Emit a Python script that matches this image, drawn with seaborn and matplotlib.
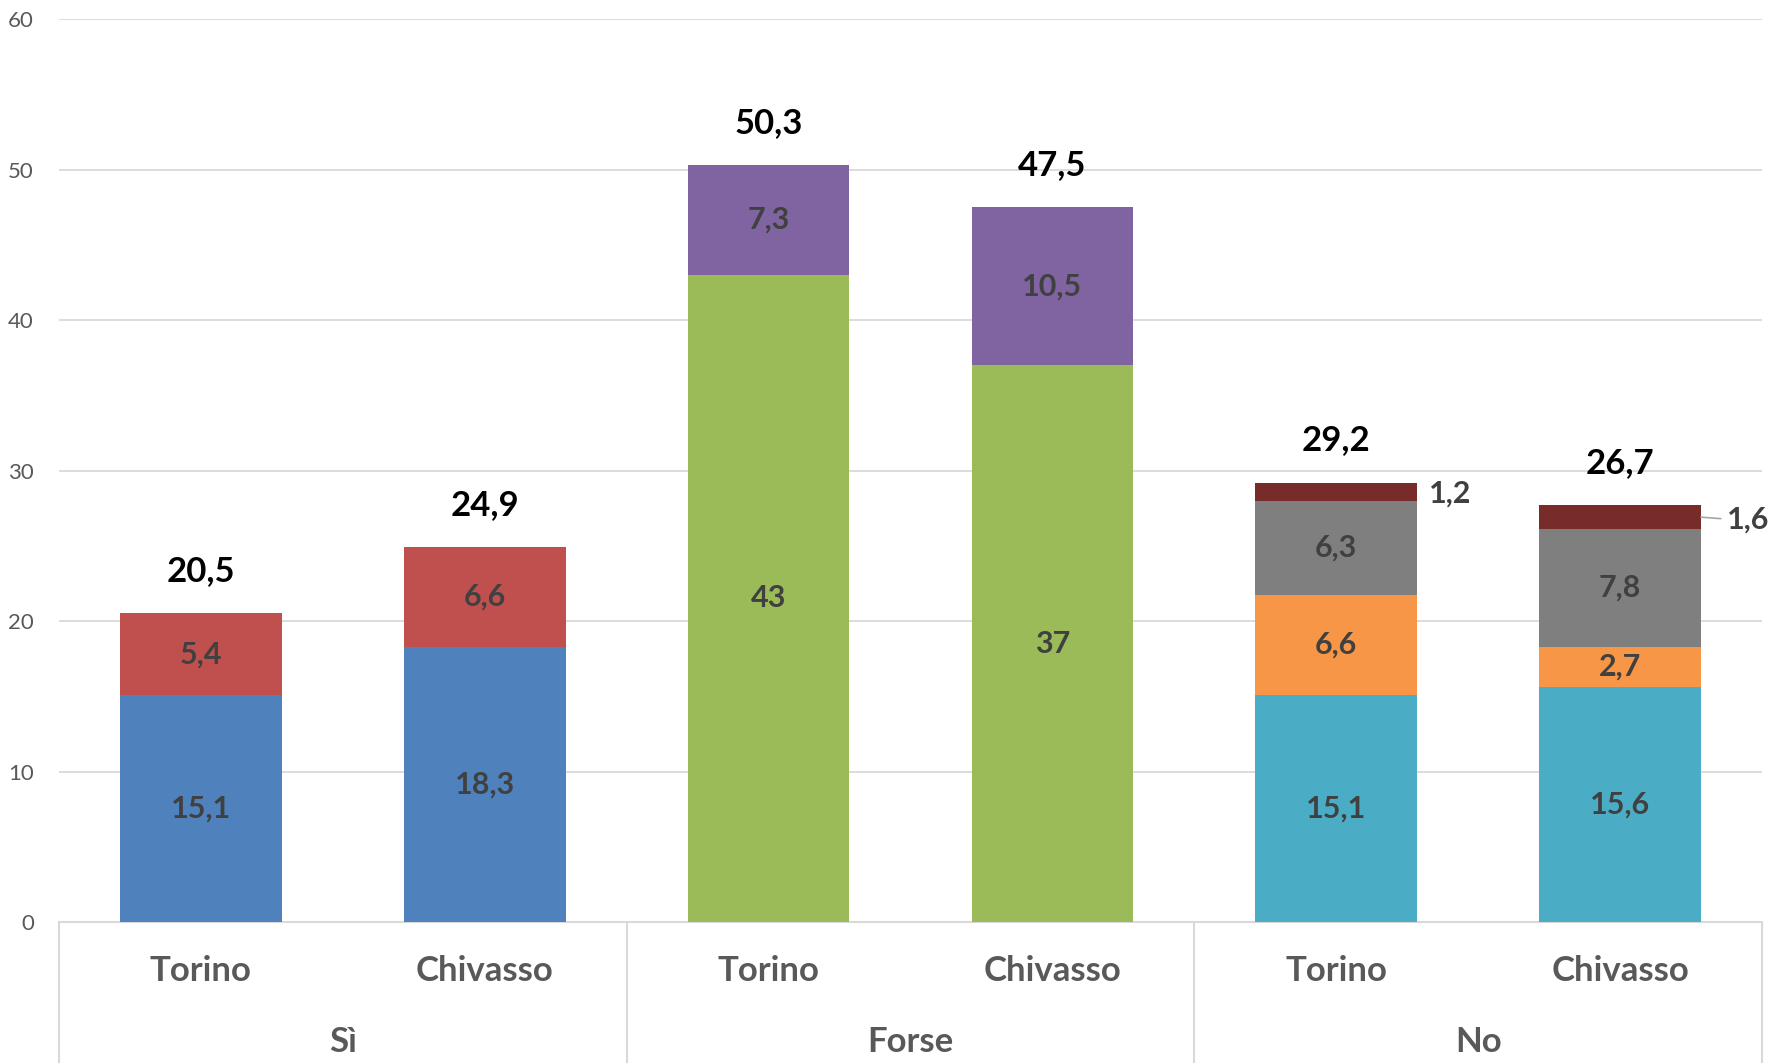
import numpy as np
import pandas as pd
import matplotlib.pyplot as plt
import matplotlib.transforms as mtransforms
import seaborn as sns

# Data
groups = ["Sì", "Forse", "No"]
cities = ["Torino", "Chivasso"]
si_base = [15.1, 18.3]
si_top = [5.4, 6.6]
forse_base = [43, 37]
forse_top = [7.3, 10.5]
no_1 = [15.1, 15.6]
no_2 = [6.6, 2.7]
no_3 = [6.3, 7.8]
no_4 = [1.2, 1.6]
totals = [20.5, 24.9, 50.3, 47.5, 29.2, 26.7]

seg_colors = {
    "Sì": ["#4F81BD", "#C0504D"],
    "Forse": ["#9BBB59", "#8064A2"],
    "No": ["#4BACC6", "#F79646", "#7F7F7F", "#772C2A"],
}
stacks = {
    "Sì": [si_base, si_top],
    "Forse": [forse_base, forse_top],
    "No": [no_1, no_2, no_3, no_4],
}

sns.set_style("white")
plt.rcParams['font.family'] = ['Lato', 'DejaVu Sans']

fig = plt.figure(figsize=(17.71, 10.63), dpi=100)
ax = fig.add_axes([59 / 1771, 1 - 922 / 1063, (1762 - 59) / 1771, 903 / 1063])

label_col = "#404040"
seg_fs = 22
bar_w = 0.57
pos = 0
tops = []
for g in groups:
    for ci in range(len(cities)):
        bottom = 0
        series = stacks[g]
        for si, s in enumerate(series):
            v = s[ci]
            ax.bar(pos, v, bottom=bottom, width=bar_w, color=seg_colors[g][si],
                   edgecolor="none", zorder=3)
            txt = f"{v:g}".replace(".", ",")
            if g == "No" and si == 3:
                # small segment: label outside on the right
                if ci == 1:
                    ax.plot([pos + bar_w / 2, pos + bar_w / 2 + 0.07],
                            [bottom + v / 2, bottom + v / 2 - 0.1],
                            color="#A6A6A6", lw=1.2, zorder=3, clip_on=False)
                    ax.text(pos + bar_w / 2 + 0.09, bottom + v / 2 - 0.15, txt,
                            ha="left", va="center", fontsize=seg_fs, fontweight="bold",
                            color=label_col, zorder=4)
                else:
                    ax.text(pos + bar_w / 2 + 0.04, bottom + v / 2 - 0.15, txt,
                            ha="left", va="center", fontsize=seg_fs, fontweight="bold",
                            color=label_col, zorder=4)
            else:
                ax.text(pos, bottom + v / 2, txt, ha="center", va="center",
                        fontsize=seg_fs, fontweight="bold", color=label_col, zorder=4)
            bottom += v
        tops.append(bottom)
        pos += 1

for i, (t, top) in enumerate(zip(totals, tops)):
    ax.text(i, top + 2.8, f"{t:g}".replace(".", ","), ha="center", va="center",
            fontsize=25, fontweight="bold", color="black", zorder=4)

ax.set_xlim(-0.5, 5.5)
ax.set_ylim(0, 60)
ax.set_yticks(range(0, 61, 10))
ax.set_yticklabels([str(v) for v in range(0, 61, 10)], fontsize=16, color="#595959")
ax.tick_params(axis="y", length=0, pad=18)
ax.set_xticks([])
ax.yaxis.grid(True, color="#D9D9D9", lw=1.3, zorder=0)
for sp in ["left", "right", "top"]:
    ax.spines[sp].set_visible(False)
ax.spines["bottom"].set_color("#D9D9D9")
ax.spines["bottom"].set_linewidth(1.5)

# two-level category axis
trans = mtransforms.blended_transform_factory(ax.transData, ax.transAxes)
for x in [-0.5, 1.5, 3.5, 5.5]:
    ax.plot([x, x], [0, -0.16], color="#D9D9D9", lw=1.5, transform=trans, clip_on=False)
for i in range(6):
    ax.text(i, -0.054, cities[i % 2], transform=trans, ha="center", va="center",
            fontsize=25, fontweight="bold", color="#595959")
for gi, g in enumerate(groups):
    ax.text(gi * 2 + 0.5, -0.133, g, transform=trans, ha="center", va="center",
            fontsize=25, fontweight="bold", color="#595959")

fig.savefig("out.png", dpi=100, facecolor="white")
